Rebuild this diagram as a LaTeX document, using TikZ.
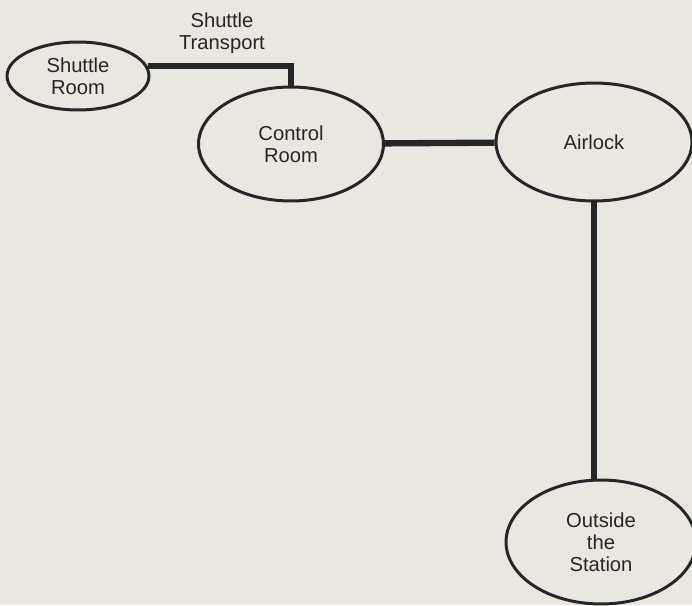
\documentclass[tikz,border=0pt]{standalone}
\usepackage{fontspec}
\setmainfont{Liberation Sans}
\usetikzlibrary{shapes.geometric}
\definecolor{paper}{HTML}{EAE7E0}
\definecolor{ink}{HTML}{262626}
\tikzstyle{room}=[draw=ink, ellipse, line width=1.7pt, inner sep=0pt, align=center, text=ink, font=\fontsize{11.5}{12.5}\selectfont]
\tikzstyle{passage}=[draw=ink, line width=3.6pt]
\tikzstyle{tag}=[text=ink, align=center, font=\fontsize{11.5}{12.5}\selectfont]

\begin{document}
\begin{tikzpicture}[x=0.02cm, y=-0.02cm]
      \fill[paper] (0, 0) rectangle (692, 605);
      \clip (0, 0) rectangle (692, 605);
      \node[room, minimum width=2.84cm, minimum height=1.36cm] (shuttle) at (78, 76) {Shuttle\\Room};
      \node[room, minimum width=3.7cm, minimum height=2.28cm] (control) at (291, 144) {Control\\Room};
      \node[room, minimum width=3.92cm, minimum height=2.36cm] (airlock) at (594, 142) {Airlock};
      \node[room, minimum width=3.8cm, minimum height=2.48cm] (outside) at (601, 542) {Outside\\the\\Station};
      \node[tag] (transport) at (222, 33) {Shuttle\\Transport};
      \draw[passage] (shuttle.8) -| (control);
      \draw[passage] (control) -- (airlock);
      \draw[passage] (airlock.south) -- (airlock.south |- outside.north);
    \end{tikzpicture}
\end{document}
